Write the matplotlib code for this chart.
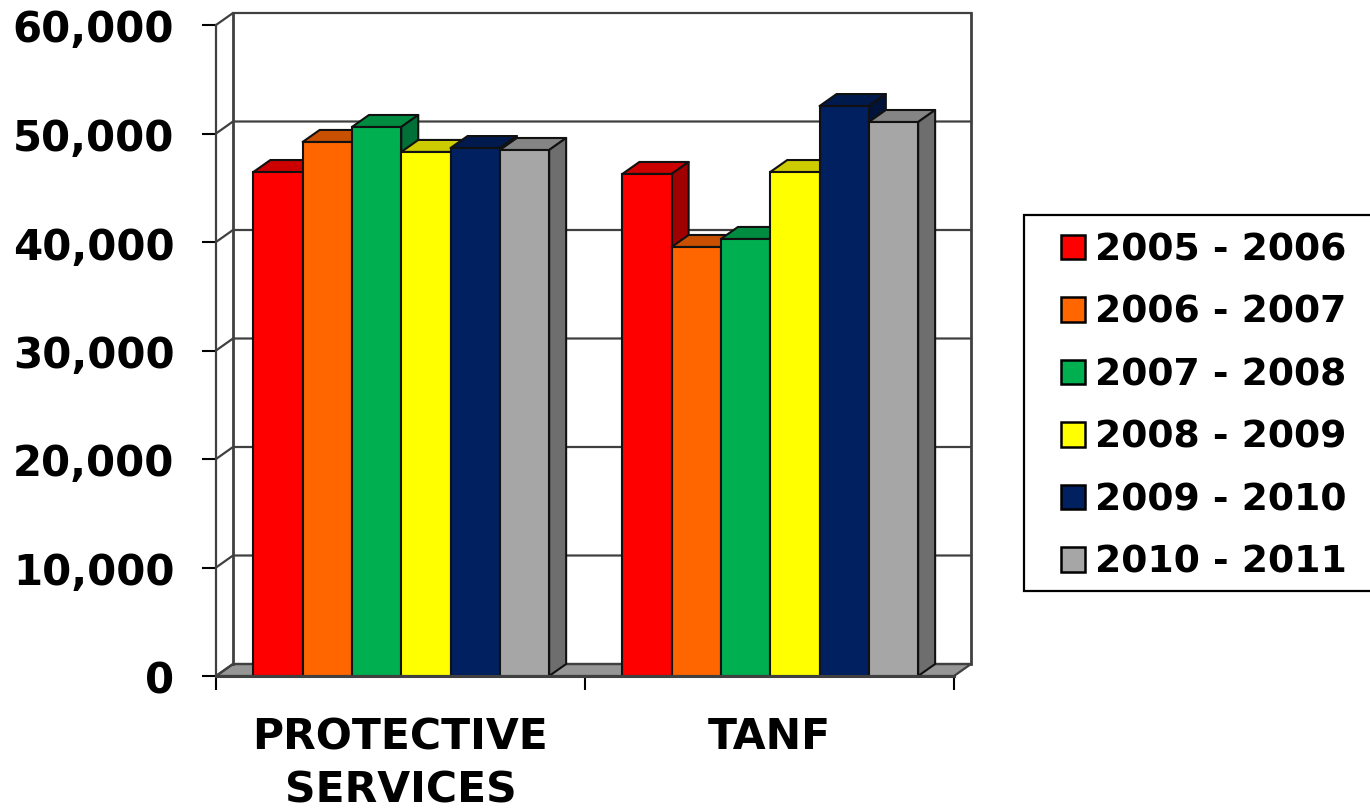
import matplotlib
matplotlib.use("Agg")
import matplotlib.pyplot as plt
from matplotlib.patches import Patch, Rectangle
from matplotlib.ticker import FuncFormatter
from matplotlib.transforms import Affine2D

categories = ["PROTECTIVE\nSERVICES", "TANF"]
years = ["2005 - 2006", "2006 - 2007", "2007 - 2008", "2008 - 2009", "2009 - 2010", "2010 - 2011"]
protective = [46450, 49220, 50600, 48300, 48660, 48480]
tanf = [46270, 39540, 40280, 46450, 52530, 51060]
front_colors = ["#FF0000", "#FF6600", "#00B050", "#FFFF00", "#002060", "#A6A6A6"]
top_colors = ["#CC0000", "#C85000", "#008C40", "#CCCC00", "#001A4D", "#858585"]
side_colors = ["#A00000", "#993D00", "#007038", "#999900", "#00133A", "#6E6E6E"]
y_ticks = [0, 10000, 20000, 30000, 40000, 50000, 60000]

W, H = 1370, 811
fig = plt.figure(figsize=(W / 100, H / 100), dpi=100, facecolor="white")
plt.rcParams["font.family"] = "DejaVu Sans"
ax = fig.add_axes([216 / W, 1 - 676 / H, (954 - 216) / W, (676 - 25) / H])
ax.set_xlim(0, 2)
ax.set_ylim(0, 60000)

# depth of the pseudo 3-D box, as data units
DX = 17 / 369
DY = 12 * 60000 / 651
BAR_W = 49.3 / 369
SHIFT = 0.002
WALL = "#404040"
LW = 1.6
EDGE = 1.5

# walls and floor
ax.fill([0, 2, 2 + DX, DX], [0, 0, DY, DY], facecolor="#969696", edgecolor=WALL,
        lw=LW, zorder=1, clip_on=False)
for v in y_ticks:
    ax.plot([0, DX, 2 + DX], [v, v + DY, v + DY], color=WALL, lw=LW, zorder=1,
            clip_on=False, solid_joinstyle="miter")
ax.plot([DX, DX], [DY, 60000 + DY], color=WALL, lw=LW + 0.4, zorder=1, clip_on=False)
ax.plot([2 + DX, 2 + DX], [DY, 60000 + DY], color=WALL, lw=LW + 0.4, zorder=1, clip_on=False)

# bars: each later bar paints over the 3-D faces of the previous one
for j in range(len(years)):
    z = 3 + j
    for g, vals in enumerate([protective, tanf]):
        v = vals[j]
        x0 = g + 0.5 + SHIFT + (j - 3) * BAR_W
        x1 = x0 + BAR_W
        ax.fill([x0, x1, x1 + DX, x0 + DX], [v, v, v + DY, v + DY],
                facecolor=top_colors[j], edgecolor="#111111", lw=EDGE, zorder=z,
                clip_on=False, joinstyle="round")
        ax.fill([x1, x1 + DX, x1 + DX, x1], [0, DY, v + DY, v],
                facecolor=side_colors[j], edgecolor="#111111", lw=EDGE, zorder=z,
                clip_on=False, joinstyle="round")
        ax.bar(x0, v, width=BAR_W, align="edge", color=front_colors[j],
               edgecolor="#111111", linewidth=EDGE, zorder=z, clip_on=False)

# axes
for s in ["top", "right"]:
    ax.spines[s].set_visible(False)
ax.spines["left"].set_color(WALL)
ax.spines["bottom"].set_color(WALL)
ax.spines["left"].set_linewidth(LW)
ax.spines["bottom"].set_linewidth(LW + 0.6)
ax.spines["bottom"].set_zorder(12)
ax.patch.set_alpha(0)

ax.set_yticks(y_ticks)
ax.yaxis.set_major_formatter(FuncFormatter(lambda v, _: f"{int(v):,}"))
ax.tick_params(axis="y", length=10, width=1.5, color="black", pad=20, labelsize=30.2)
for t in ax.get_yticklabels():
    t.set_fontweight("bold")
    t.set_verticalalignment("center_baseline")
    t.set_transform(t.get_transform() + Affine2D().translate(0, -1))

ax.set_xticks([0, 1, 2])
ax.set_xticklabels(["", "", ""])
ax.tick_params(axis="x", which="major", length=10, width=1.5, color="black")
ax.set_xticks([0.5, 1.5], categories, minor=True)
ax.tick_params(axis="x", which="minor", length=0, pad=29, labelsize=30.6)
for t in ax.get_xticklabels(minor=True):
    t.set_fontweight("bold")
    t.set_linespacing(1.34)

# legend: frame runs off the right edge of the figure
fig.add_artist(Rectangle((1024 / W, 1 - 591 / H), 360 / W, (591 - 215) / H,
                         transform=fig.transFigure, facecolor="white",
                         edgecolor="black", linewidth=1.6, zorder=2))
handles = [Patch(facecolor=c, edgecolor="black", linewidth=1.8) for c in front_colors]
leg = fig.legend(handles, years, loc="upper left",
                 bbox_to_anchor=(1061 / W, 1 - 232.4 / H), bbox_transform=fig.transFigure,
                 prop={"size": 27.2, "weight": "bold"}, frameon=False,
                 borderaxespad=0, borderpad=0,
                 handlelength=0.63, handleheight=0.63, handletextpad=0.28, labelspacing=0.7)
leg.set_zorder(3)

fig.savefig("out.png", dpi=100, facecolor="white")
